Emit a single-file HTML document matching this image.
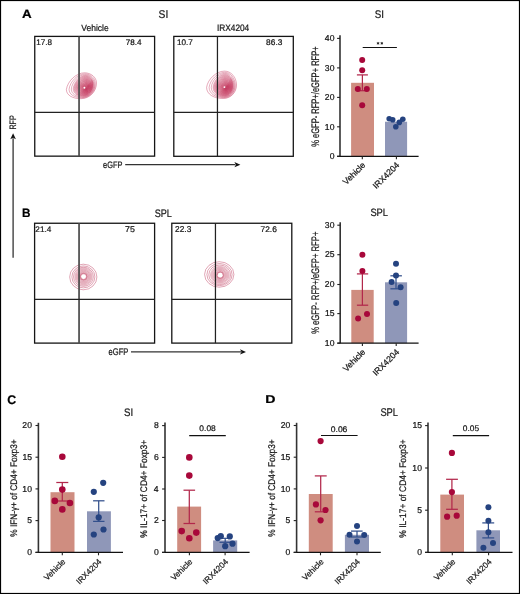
<!DOCTYPE html>
<html><head><meta charset="utf-8"><title>Figure</title>
<style>html,body{margin:0;padding:0;background:#fff;}body{width:520px;height:594px;position:relative;overflow:hidden;font-family:"Liberation Sans", sans-serif;}</style>
</head><body>
<svg width="520" height="594" viewBox="0 0 520 594" style="position:absolute;left:0;top:0;will-change:transform;font-family:'Liberation Sans', sans-serif">
<style>text{stroke:#151515;stroke-width:0.22px;paint-order:stroke;text-rendering:geometricPrecision}</style>
<rect x="0" y="0" width="520" height="594" fill="#fff"/>
<text x="21.98" y="17.90" style="font-size:12.06px;font-weight:bold;" fill="#000" textLength="9.67" lengthAdjust="spacingAndGlyphs">A</text>
<text x="22.02" y="216.70" style="font-size:12.21px;font-weight:bold;" fill="#000" textLength="8.51" lengthAdjust="spacingAndGlyphs">B</text>
<text x="7.19" y="404.00" style="font-size:12.46px;font-weight:bold;" fill="#000" textLength="8.94" lengthAdjust="spacingAndGlyphs">C</text>
<text x="265.37" y="403.30" style="font-size:11.34px;font-weight:bold;" fill="#000" textLength="10.22" lengthAdjust="spacingAndGlyphs">D</text>
<text x="158.54" y="18.30" style="font-size:11.17px;" fill="#151515" textLength="9.71" lengthAdjust="spacingAndGlyphs">SI</text>
<text x="374.76" y="17.90" style="font-size:11.03px;" fill="#151515" textLength="9.24" lengthAdjust="spacingAndGlyphs">SI</text>
<text x="154.69" y="216.50" style="font-size:10.89px;" fill="#151515" textLength="17.11" lengthAdjust="spacingAndGlyphs">SPL</text>
<text x="370.38" y="216.30" style="font-size:10.60px;" fill="#151515" textLength="17.63" lengthAdjust="spacingAndGlyphs">SPL</text>
<text x="124.07" y="415.50" style="font-size:10.89px;" fill="#151515" textLength="9.12" lengthAdjust="spacingAndGlyphs">SI</text>
<text x="380.38" y="415.50" style="font-size:11.17px;" fill="#151515" textLength="17.63" lengthAdjust="spacingAndGlyphs">SPL</text>
<text x="81.27" y="31.20" style="font-size:9.10px;" fill="#151515" textLength="27.41" lengthAdjust="spacingAndGlyphs">Vehicle</text>
<text x="216.94" y="31.20" style="font-size:9.46px;" fill="#151515" textLength="32.31" lengthAdjust="spacingAndGlyphs">IRX4204</text>
<g fill="none">
<defs><radialGradient id="g1" cx="86.00" cy="89.00" r="12.50" fx="86.00" fy="89.00" gradientUnits="userSpaceOnUse"><stop offset="0" stop-color="#b0123c" stop-opacity="0.7"/><stop offset="0.35" stop-color="#bf2a50" stop-opacity="0.5"/><stop offset="0.75" stop-color="#d2607e" stop-opacity="0.25"/><stop offset="1" stop-color="#e6a0b2" stop-opacity="0.0"/></radialGradient></defs>
<path d="M66.40,89.50 C67.49,81.15 76.36,72.80 84.50,72.80 C91.10,72.80 96.50,77.39 96.50,83.00 C96.50,91.64 89.53,98.70 81.00,98.70 C72.53,98.70 66.40,95.20 66.40,89.50 Z" fill="url(#g1)"/>
<path d="M66.40,89.50 C67.49,81.15 76.36,72.80 84.50,72.80 C91.10,72.80 96.50,77.39 96.50,83.00 C96.50,91.64 89.53,98.70 81.00,98.70 C72.53,98.70 66.40,95.20 66.40,89.50 Z" stroke="#bc1f4b" stroke-width="0.45" stroke-opacity="0.85"/>
<path d="M69.05,89.22 C70.00,81.53 77.71,73.84 84.80,73.84 C90.54,73.84 95.24,78.07 95.24,83.24 C95.24,91.19 89.17,97.70 81.75,97.70 C74.39,97.70 69.05,94.48 69.05,89.22 Z" stroke="#bc1f4b" stroke-width="0.45" stroke-opacity="0.8"/>
<path d="M71.30,88.99 C72.12,81.86 78.86,74.72 85.05,74.72 C90.07,74.72 94.17,78.64 94.17,83.44 C94.17,90.82 88.87,96.85 82.39,96.85 C75.96,96.85 71.30,93.87 71.30,88.99 Z" stroke="#bc1f4b" stroke-width="0.45" stroke-opacity="0.8"/>
<path d="M73.13,88.80 C73.86,82.12 79.80,75.44 85.26,75.44 C89.68,75.44 93.30,79.11 93.30,83.60 C93.30,90.51 88.63,96.16 82.91,96.16 C77.24,96.16 73.13,93.36 73.13,88.80 Z" stroke="#bc1f4b" stroke-width="0.45" stroke-opacity="0.62"/>
<path d="M73.74,88.67 C74.44,82.29 80.12,75.91 85.33,75.91 C89.55,75.91 93.01,79.42 93.01,83.71 C93.01,90.31 88.54,95.71 83.09,95.71 C77.67,95.71 73.74,93.03 73.74,88.67 Z" stroke="#bc1f4b" stroke-width="0.45" stroke-opacity="0.62"/>
<path d="M74.36,88.55 C75.02,82.47 80.43,76.39 85.40,76.39 C89.42,76.39 92.72,79.73 92.72,83.81 C92.72,90.10 88.46,95.25 83.26,95.25 C78.10,95.25 74.36,92.70 74.36,88.55 Z" stroke="#bc1f4b" stroke-width="0.45" stroke-opacity="0.62"/>
<path d="M74.97,88.42 C75.60,82.64 80.74,76.86 85.47,76.86 C89.29,76.86 92.43,80.04 92.43,83.92 C92.43,89.90 88.38,94.80 83.44,94.80 C78.52,94.80 74.97,92.37 74.97,88.42 Z" stroke="#bc1f4b" stroke-width="0.45" stroke-opacity="0.62"/>
<path d="M75.58,88.30 C76.18,82.81 81.06,77.33 85.53,77.33 C89.17,77.33 92.14,80.35 92.14,84.03 C92.14,89.70 88.30,94.34 83.61,94.34 C78.95,94.34 75.58,92.04 75.58,88.30 Z" stroke="#bc1f4b" stroke-width="0.45" stroke-opacity="0.62"/>
<path d="M76.19,88.17 C76.76,82.99 81.37,77.80 85.60,77.80 C89.04,77.80 91.84,80.65 91.84,84.14 C91.84,89.50 88.22,93.89 83.78,93.89 C79.38,93.89 76.19,91.71 76.19,88.17 Z" stroke="#bc1f4b" stroke-width="0.45" stroke-opacity="0.62"/>
<path d="M76.80,88.05 C77.34,83.16 81.68,78.28 85.67,78.28 C88.91,78.28 91.55,80.96 91.55,84.24 C91.55,89.30 88.14,93.43 83.96,93.43 C79.81,93.43 76.80,91.39 76.80,88.05 Z" stroke="#bc1f4b" stroke-width="0.45" stroke-opacity="0.62"/>
<path d="M77.42,87.92 C77.92,83.34 82.00,78.75 85.74,78.75 C88.78,78.75 91.26,81.27 91.26,84.35 C91.26,89.10 88.05,92.98 84.13,92.98 C80.24,92.98 77.42,91.06 77.42,87.92 Z" stroke="#bc1f4b" stroke-width="0.45" stroke-opacity="0.62"/>
<path d="M78.03,87.80 C78.49,83.51 82.31,79.22 85.81,79.22 C88.65,79.22 90.97,81.58 90.97,84.46 C90.97,88.89 87.97,92.52 84.31,92.52 C80.66,92.52 78.03,90.73 78.03,87.80 Z" stroke="#bc1f4b" stroke-width="0.45" stroke-opacity="0.62"/>
<path d="M78.64,87.67 C79.07,83.68 82.62,79.70 85.88,79.70 C88.52,79.70 90.68,81.89 90.68,84.57 C90.68,88.69 87.89,92.07 84.48,92.07 C81.09,92.07 78.64,90.40 78.64,87.67 Z" stroke="#bc1f4b" stroke-width="0.45" stroke-opacity="0.62"/>
<path d="M79.25,87.55 C79.65,83.86 82.94,80.17 85.95,80.17 C88.39,80.17 90.39,82.20 90.39,84.67 C90.39,88.49 87.81,91.61 84.65,91.61 C81.52,91.61 79.25,90.07 79.25,87.55 Z" stroke="#bc1f4b" stroke-width="0.45" stroke-opacity="0.62"/>
<path d="M79.86,87.42 C80.23,84.03 83.25,80.64 86.02,80.64 C88.26,80.64 90.10,82.50 90.10,84.78 C90.10,88.29 87.73,91.16 84.83,91.16 C81.95,91.16 79.86,89.74 79.86,87.42 Z" stroke="#bc1f4b" stroke-width="0.45" stroke-opacity="0.62"/>
<path d="M80.48,87.30 C80.81,84.20 83.56,81.11 86.09,81.11 C88.13,81.11 89.81,82.81 89.81,84.89 C89.81,88.09 87.64,90.70 85.00,90.70 C82.38,90.70 80.48,89.41 80.48,87.30 Z" stroke="#bc1f4b" stroke-width="0.45" stroke-opacity="0.62"/>
<path d="M81.09,87.17 C81.39,84.38 83.88,81.59 86.16,81.59 C88.00,81.59 89.52,83.12 89.52,85.00 C89.52,87.88 87.56,90.25 85.18,90.25 C82.80,90.25 81.09,89.08 81.09,87.17 Z" stroke="#bc1f4b" stroke-width="0.45" stroke-opacity="0.62"/>
<path d="M81.70,87.04 C81.97,84.55 84.19,82.06 86.22,82.06 C87.88,82.06 89.22,83.43 89.22,85.10 C89.22,87.68 87.48,89.79 85.35,89.79 C83.23,89.79 81.70,88.75 81.70,87.04 Z" stroke="#bc1f4b" stroke-width="0.45" stroke-opacity="0.62"/>
<path d="M82.31,86.92 C82.55,84.73 84.50,82.53 86.29,82.53 C87.75,82.53 88.93,83.74 88.93,85.21 C88.93,87.48 87.40,89.34 85.52,89.34 C83.66,89.34 82.31,88.42 82.31,86.92 Z" stroke="#bc1f4b" stroke-width="0.45" stroke-opacity="0.62"/>
<path d="M82.92,86.79 C83.13,84.90 84.82,83.01 86.36,83.01 C87.62,83.01 88.64,84.05 88.64,85.32 C88.64,87.28 87.32,88.88 85.70,88.88 C84.09,88.88 82.92,88.09 82.92,86.79 Z" stroke="#bc1f4b" stroke-width="0.45" stroke-opacity="0.62"/>
<path d="M83.54,86.67 C83.71,85.07 85.13,83.48 86.43,83.48 C87.49,83.48 88.35,84.36 88.35,85.43 C88.35,87.08 87.24,88.43 85.87,88.43 C84.52,88.43 83.54,87.76 83.54,86.67 Z" stroke="#bc1f4b" stroke-width="0.45" stroke-opacity="0.62"/>
<path d="M84.15,86.54 C84.29,85.25 85.44,83.95 86.50,83.95 C87.36,83.95 88.06,84.66 88.06,85.53 C88.06,86.87 87.15,87.97 86.05,87.97 C84.95,87.97 84.15,87.43 84.15,86.54 Z" stroke="#bc1f4b" stroke-width="0.45" stroke-opacity="0.62"/>
<path d="M84.76,86.42 C84.87,85.42 85.76,84.42 86.57,84.42 C87.23,84.42 87.77,84.97 87.77,85.64 C87.77,86.67 87.07,87.52 86.22,87.52 C85.37,87.52 84.76,87.10 84.76,86.42 Z" stroke="#bc1f4b" stroke-width="0.45" stroke-opacity="0.62"/>
<path d="M85.37,86.29 C85.45,85.59 86.07,84.90 86.64,84.90 C87.10,84.90 87.48,85.28 87.48,85.75 C87.48,86.47 86.99,87.06 86.39,87.06 C85.80,87.06 85.37,86.77 85.37,86.29 Z" stroke="#bc1f4b" stroke-width="0.45" stroke-opacity="0.62"/>
<path d="M85.98,86.17 C86.03,85.77 86.38,85.37 86.71,85.37 C86.97,85.37 87.19,85.59 87.19,85.86 C87.19,86.27 86.91,86.61 86.57,86.61 C86.23,86.61 85.98,86.44 85.98,86.17 Z" stroke="#bc1f4b" stroke-width="0.45" stroke-opacity="0.62"/>
<circle cx="84.40" cy="87.80" r="0.95" fill="#fff"/>
</g>
<g fill="none">
<defs><radialGradient id="g2" cx="226.00" cy="88.50" r="13.00" fx="226.00" fy="88.50" gradientUnits="userSpaceOnUse"><stop offset="0" stop-color="#b0123c" stop-opacity="0.7"/><stop offset="0.35" stop-color="#bf2a50" stop-opacity="0.5"/><stop offset="0.75" stop-color="#d2607e" stop-opacity="0.25"/><stop offset="1" stop-color="#e6a0b2" stop-opacity="0.0"/></radialGradient></defs>
<path d="M206.60,87.40 C207.67,79.25 216.44,71.10 224.50,71.10 C231.10,71.10 236.50,77.35 236.50,85.00 C236.50,92.42 230.65,98.50 223.50,98.50 C213.70,98.50 206.60,94.28 206.60,87.40 Z" fill="url(#g2)"/>
<path d="M206.60,87.40 C207.67,79.25 216.44,71.10 224.50,71.10 C231.10,71.10 236.50,77.35 236.50,85.00 C236.50,92.42 230.65,98.50 223.50,98.50 C213.70,98.50 206.60,94.28 206.60,87.40 Z" stroke="#bc1f4b" stroke-width="0.45" stroke-opacity="0.85"/>
<path d="M209.12,87.32 C210.06,79.81 217.69,72.31 224.69,72.31 C230.44,72.31 235.13,78.07 235.13,85.11 C235.13,91.95 230.05,97.55 223.82,97.55 C215.30,97.55 209.12,93.66 209.12,87.32 Z" stroke="#bc1f4b" stroke-width="0.45" stroke-opacity="0.8"/>
<path d="M211.26,87.25 C212.07,80.29 218.74,73.33 224.86,73.33 C229.88,73.33 233.98,78.67 233.98,85.20 C233.98,91.55 229.53,96.74 224.10,96.74 C216.65,96.74 211.26,93.14 211.26,87.25 Z" stroke="#bc1f4b" stroke-width="0.45" stroke-opacity="0.8"/>
<path d="M213.00,87.20 C213.72,80.68 219.60,74.16 225.00,74.16 C229.42,74.16 233.03,79.16 233.03,85.28 C233.03,91.22 229.12,96.08 224.32,96.08 C217.76,96.08 213.00,92.71 213.00,87.20 Z" stroke="#bc1f4b" stroke-width="0.45" stroke-opacity="0.62"/>
<path d="M213.58,87.16 C214.27,80.94 219.88,74.71 225.04,74.71 C229.26,74.71 232.72,79.49 232.72,85.33 C232.72,91.00 228.98,95.65 224.40,95.65 C218.13,95.65 213.58,92.42 213.58,87.16 Z" stroke="#bc1f4b" stroke-width="0.45" stroke-opacity="0.62"/>
<path d="M214.17,87.13 C214.82,81.19 220.17,75.26 225.09,75.26 C229.11,75.26 232.41,79.81 232.41,85.38 C232.41,90.79 228.84,95.21 224.47,95.21 C218.50,95.21 214.17,92.14 214.17,87.13 Z" stroke="#bc1f4b" stroke-width="0.45" stroke-opacity="0.62"/>
<path d="M214.75,87.09 C215.37,81.45 220.46,75.80 225.13,75.80 C228.96,75.80 232.09,80.14 232.09,85.43 C232.09,90.57 228.70,94.78 224.55,94.78 C218.86,94.78 214.75,91.86 214.75,87.09 Z" stroke="#bc1f4b" stroke-width="0.45" stroke-opacity="0.62"/>
<path d="M215.33,87.06 C215.92,81.70 220.74,76.35 225.18,76.35 C228.81,76.35 231.78,80.46 231.78,85.48 C231.78,90.36 228.56,94.35 224.62,94.35 C219.23,94.35 215.33,91.58 215.33,87.06 Z" stroke="#bc1f4b" stroke-width="0.45" stroke-opacity="0.62"/>
<path d="M215.91,87.02 C216.47,81.96 221.03,76.90 225.22,76.90 C228.65,76.90 231.46,80.78 231.46,85.53 C231.46,90.14 228.42,93.91 224.70,93.91 C219.60,93.91 215.91,91.29 215.91,87.02 Z" stroke="#bc1f4b" stroke-width="0.45" stroke-opacity="0.62"/>
<path d="M216.49,86.99 C217.02,82.22 221.32,77.45 225.26,77.45 C228.50,77.45 231.15,81.11 231.15,85.58 C231.15,89.93 228.28,93.48 224.78,93.48 C219.97,93.48 216.49,91.01 216.49,86.99 Z" stroke="#bc1f4b" stroke-width="0.45" stroke-opacity="0.62"/>
<path d="M217.08,86.95 C217.57,82.47 221.60,78.00 225.31,78.00 C228.35,78.00 230.83,81.43 230.83,85.63 C230.83,89.71 228.14,93.05 224.85,93.05 C220.34,93.05 217.08,90.73 217.08,86.95 Z" stroke="#bc1f4b" stroke-width="0.45" stroke-opacity="0.62"/>
<path d="M217.66,86.91 C218.12,82.73 221.89,78.54 225.35,78.54 C228.19,78.54 230.51,81.76 230.51,85.68 C230.51,89.49 228.00,92.61 224.93,92.61 C220.71,92.61 217.66,90.45 217.66,86.91 Z" stroke="#bc1f4b" stroke-width="0.45" stroke-opacity="0.62"/>
<path d="M218.24,86.88 C218.67,82.99 222.18,79.09 225.40,79.09 C228.04,79.09 230.20,82.08 230.20,85.73 C230.20,89.28 227.86,92.18 225.00,92.18 C221.08,92.18 218.24,90.16 218.24,86.88 Z" stroke="#bc1f4b" stroke-width="0.45" stroke-opacity="0.62"/>
<path d="M218.82,86.84 C219.22,83.24 222.46,79.64 225.44,79.64 C227.89,79.64 229.88,82.40 229.88,85.78 C229.88,89.06 227.72,91.75 225.07,91.75 C221.45,91.75 218.82,89.88 218.82,86.84 Z" stroke="#bc1f4b" stroke-width="0.45" stroke-opacity="0.62"/>
<path d="M219.40,86.81 C219.77,83.50 222.75,80.19 225.49,80.19 C227.73,80.19 229.57,82.73 229.57,85.83 C229.57,88.85 227.58,91.31 225.15,91.31 C221.82,91.31 219.40,89.60 219.40,86.81 Z" stroke="#bc1f4b" stroke-width="0.45" stroke-opacity="0.62"/>
<path d="M219.99,86.77 C220.32,83.75 223.04,80.74 225.53,80.74 C227.58,80.74 229.25,83.05 229.25,85.88 C229.25,88.63 227.44,90.88 225.22,90.88 C222.19,90.88 219.99,89.32 219.99,86.77 Z" stroke="#bc1f4b" stroke-width="0.45" stroke-opacity="0.62"/>
<path d="M220.57,86.73 C220.87,84.01 223.32,81.28 225.58,81.28 C227.43,81.28 228.94,83.38 228.94,85.93 C228.94,88.41 227.30,90.45 225.30,90.45 C222.56,90.45 220.57,89.04 220.57,86.73 Z" stroke="#bc1f4b" stroke-width="0.45" stroke-opacity="0.62"/>
<path d="M221.15,86.70 C221.42,84.27 223.61,81.83 225.62,81.83 C227.28,81.83 228.62,83.70 228.62,85.98 C228.62,88.20 227.16,90.01 225.38,90.01 C222.92,90.01 221.15,88.75 221.15,86.70 Z" stroke="#bc1f4b" stroke-width="0.45" stroke-opacity="0.62"/>
<path d="M221.73,86.66 C221.97,84.52 223.90,82.38 225.67,82.38 C227.12,82.38 228.31,84.02 228.31,86.03 C228.31,87.98 227.02,89.58 225.45,89.58 C223.29,89.58 221.73,88.47 221.73,86.66 Z" stroke="#bc1f4b" stroke-width="0.45" stroke-opacity="0.62"/>
<path d="M222.31,86.63 C222.52,84.78 224.18,82.93 225.72,82.93 C226.97,82.93 228.00,84.35 228.00,86.08 C228.00,87.77 226.88,89.15 225.53,89.15 C223.66,89.15 222.31,88.19 222.31,86.63 Z" stroke="#bc1f4b" stroke-width="0.45" stroke-opacity="0.62"/>
<path d="M222.90,86.59 C223.07,85.03 224.47,83.48 225.76,83.48 C226.82,83.48 227.68,84.67 227.68,86.13 C227.68,87.55 226.74,88.71 225.60,88.71 C224.03,88.71 222.90,87.91 222.90,86.59 Z" stroke="#bc1f4b" stroke-width="0.45" stroke-opacity="0.62"/>
<path d="M223.48,86.56 C223.62,85.29 224.76,84.03 225.81,84.03 C226.66,84.03 227.37,85.00 227.37,86.18 C227.37,87.34 226.60,88.28 225.68,88.28 C224.40,88.28 223.48,87.62 223.48,86.56 Z" stroke="#bc1f4b" stroke-width="0.45" stroke-opacity="0.62"/>
<path d="M224.06,86.52 C224.17,85.55 225.04,84.57 225.85,84.57 C226.51,84.57 227.05,85.32 227.05,86.23 C227.05,87.12 226.47,87.84 225.75,87.84 C224.77,87.84 224.06,87.34 224.06,86.52 Z" stroke="#bc1f4b" stroke-width="0.45" stroke-opacity="0.62"/>
<path d="M224.64,86.48 C224.72,85.80 225.33,85.12 225.90,85.12 C226.36,85.12 226.74,85.64 226.74,86.28 C226.74,86.90 226.33,87.41 225.82,87.41 C225.14,87.41 224.64,87.06 224.64,86.48 Z" stroke="#bc1f4b" stroke-width="0.45" stroke-opacity="0.62"/>
<path d="M225.22,86.45 C225.27,86.06 225.62,85.67 225.94,85.67 C226.20,85.67 226.42,85.97 226.42,86.33 C226.42,86.69 226.19,86.98 225.90,86.98 C225.51,86.98 225.22,86.78 225.22,86.45 Z" stroke="#bc1f4b" stroke-width="0.45" stroke-opacity="0.62"/>
<circle cx="224.40" cy="87.10" r="0.95" fill="#fff"/>
</g>
<g fill="none">
<defs><radialGradient id="g3" cx="83.60" cy="276.60" r="8.70" fx="83.60" fy="276.60" gradientUnits="userSpaceOnUse"><stop offset="0" stop-color="#c4405f" stop-opacity="0.35"/><stop offset="0.5" stop-color="#d27088" stop-opacity="0.28"/><stop offset="1" stop-color="#e6a8b8" stop-opacity="0.22"/></radialGradient></defs>
<ellipse cx="83.50" cy="276.70" rx="8.60" ry="8.70" fill="url(#g3)"/>
<ellipse cx="83.30" cy="277.00" rx="13.60" ry="12.80" stroke="#b92a50" stroke-width="0.5" stroke-opacity="0.85"/>
<ellipse cx="83.40" cy="276.90" rx="11.50" ry="11.00" stroke="#b92a50" stroke-width="0.5" stroke-opacity="0.85"/>
<ellipse cx="83.45" cy="276.80" rx="9.90" ry="9.60" stroke="#b92a50" stroke-width="0.5" stroke-opacity="0.85"/>
<ellipse cx="83.50" cy="276.70" rx="8.60" ry="8.70" stroke="#b92a50" stroke-width="0.5" stroke-opacity="0.6"/>
<ellipse cx="83.51" cy="276.69" rx="7.60" ry="7.69" stroke="#b92a50" stroke-width="0.5" stroke-opacity="0.6"/>
<ellipse cx="83.53" cy="276.68" rx="6.60" ry="6.67" stroke="#b92a50" stroke-width="0.5" stroke-opacity="0.6"/>
<ellipse cx="83.54" cy="276.66" rx="5.60" ry="5.66" stroke="#b92a50" stroke-width="0.5" stroke-opacity="0.6"/>
<ellipse cx="83.55" cy="276.65" rx="4.60" ry="4.65" stroke="#b92a50" stroke-width="0.5" stroke-opacity="0.6"/>
<ellipse cx="83.56" cy="276.64" rx="3.60" ry="3.64" stroke="#b92a50" stroke-width="0.5" stroke-opacity="0.6"/>
<ellipse cx="83.57" cy="276.62" rx="2.60" ry="2.62" stroke="#b92a50" stroke-width="0.5" stroke-opacity="0.6"/>
<ellipse cx="83.59" cy="276.61" rx="1.60" ry="1.61" stroke="#b92a50" stroke-width="0.5" stroke-opacity="0.6"/>
<ellipse cx="83.60" cy="276.60" rx="0.60" ry="0.60" stroke="#b92a50" stroke-width="0.5" stroke-opacity="0.6"/>
<circle cx="83.60" cy="276.60" r="3.30" stroke="#b92a50" stroke-width="0.7" stroke-opacity="0.45"/>
<circle cx="83.60" cy="276.60" r="2.4" fill="#fff"/>
</g>
<g fill="none">
<defs><radialGradient id="g4" cx="220.20" cy="275.20" r="8.60" fx="220.20" fy="275.20" gradientUnits="userSpaceOnUse"><stop offset="0" stop-color="#c4405f" stop-opacity="0.35"/><stop offset="0.5" stop-color="#d27088" stop-opacity="0.28"/><stop offset="1" stop-color="#e6a8b8" stop-opacity="0.22"/></radialGradient></defs>
<ellipse cx="219.90" cy="274.90" rx="9.40" ry="8.60" fill="url(#g4)"/>
<ellipse cx="219.25" cy="274.45" rx="14.65" ry="12.75" stroke="#b92a50" stroke-width="0.5" stroke-opacity="0.85"/>
<ellipse cx="219.50" cy="274.60" rx="12.60" ry="11.10" stroke="#b92a50" stroke-width="0.5" stroke-opacity="0.85"/>
<ellipse cx="219.70" cy="274.80" rx="10.90" ry="9.80" stroke="#b92a50" stroke-width="0.5" stroke-opacity="0.85"/>
<ellipse cx="219.90" cy="274.90" rx="9.40" ry="8.60" stroke="#b92a50" stroke-width="0.5" stroke-opacity="0.6"/>
<ellipse cx="219.94" cy="274.94" rx="8.30" ry="7.60" stroke="#b92a50" stroke-width="0.5" stroke-opacity="0.6"/>
<ellipse cx="219.97" cy="274.97" rx="7.20" ry="6.60" stroke="#b92a50" stroke-width="0.5" stroke-opacity="0.6"/>
<ellipse cx="220.01" cy="275.01" rx="6.10" ry="5.60" stroke="#b92a50" stroke-width="0.5" stroke-opacity="0.6"/>
<ellipse cx="220.05" cy="275.05" rx="5.00" ry="4.60" stroke="#b92a50" stroke-width="0.5" stroke-opacity="0.6"/>
<ellipse cx="220.09" cy="275.09" rx="3.90" ry="3.60" stroke="#b92a50" stroke-width="0.5" stroke-opacity="0.6"/>
<ellipse cx="220.12" cy="275.12" rx="2.80" ry="2.60" stroke="#b92a50" stroke-width="0.5" stroke-opacity="0.6"/>
<ellipse cx="220.16" cy="275.16" rx="1.70" ry="1.60" stroke="#b92a50" stroke-width="0.5" stroke-opacity="0.6"/>
<ellipse cx="220.20" cy="275.20" rx="0.60" ry="0.60" stroke="#b92a50" stroke-width="0.5" stroke-opacity="0.6"/>
<circle cx="220.20" cy="275.20" r="3.30" stroke="#b92a50" stroke-width="0.7" stroke-opacity="0.45"/>
<circle cx="220.20" cy="275.20" r="2.4" fill="#fff"/>
</g>
<rect x="34.75" y="36.40" width="119.85" height="119.75" fill="none" stroke="#151515" stroke-width="1.3"/>
<line x1="79.05" y1="36.40" x2="79.05" y2="156.15" stroke="#4a4a4a" stroke-width="1.7"/>
<line x1="34.75" y1="112.40" x2="154.60" y2="112.40" stroke="#222" stroke-width="1.2"/>
<rect x="173.80" y="36.40" width="119.50" height="119.90" fill="none" stroke="#151515" stroke-width="1.3"/>
<line x1="217.45" y1="36.40" x2="217.45" y2="156.30" stroke="#222" stroke-width="1.25"/>
<line x1="173.80" y1="112.35" x2="293.30" y2="112.35" stroke="#222" stroke-width="1.2"/>
<rect x="34.60" y="223.25" width="120.00" height="119.85" fill="none" stroke="#151515" stroke-width="1.3"/>
<line x1="79.05" y1="223.25" x2="79.05" y2="343.10" stroke="#4a4a4a" stroke-width="1.7"/>
<line x1="34.60" y1="299.40" x2="154.60" y2="299.40" stroke="#222" stroke-width="1.2"/>
<rect x="171.80" y="223.25" width="120.00" height="119.85" fill="none" stroke="#151515" stroke-width="1.3"/>
<line x1="215.45" y1="223.25" x2="215.45" y2="343.10" stroke="#222" stroke-width="1.25"/>
<line x1="171.80" y1="299.40" x2="291.80" y2="299.40" stroke="#222" stroke-width="1.2"/>
<text x="36.18" y="45.00" style="font-size:8.17px;" fill="#151515" textLength="15.77" lengthAdjust="spacingAndGlyphs">17.8</text>
<text x="125.89" y="44.90" style="font-size:8.02px;" fill="#151515" textLength="15.75" lengthAdjust="spacingAndGlyphs">78.4</text>
<text x="176.88" y="45.10" style="font-size:8.17px;" fill="#151515" textLength="15.83" lengthAdjust="spacingAndGlyphs">10.7</text>
<text x="266.14" y="45.00" style="font-size:8.17px;" fill="#151515" textLength="16.22" lengthAdjust="spacingAndGlyphs">86.3</text>
<text x="35.39" y="231.80" style="font-size:8.02px;" fill="#151515" textLength="15.95" lengthAdjust="spacingAndGlyphs">21.4</text>
<text x="125.05" y="231.90" style="font-size:8.28px;" fill="#151515" textLength="9.81" lengthAdjust="spacingAndGlyphs">75</text>
<text x="175.08" y="232.40" style="font-size:8.60px;" fill="#151515" textLength="16.18" lengthAdjust="spacingAndGlyphs">22.3</text>
<text x="260.57" y="231.80" style="font-size:8.17px;" fill="#151515" textLength="16.29" lengthAdjust="spacingAndGlyphs">72.6</text>
<text x="103.09" y="167.90" style="font-size:9.46px;" fill="#151515" textLength="19.40" lengthAdjust="spacingAndGlyphs">eGFP</text>
<line x1="125.20" y1="164.70" x2="235.40" y2="164.70" stroke="#333" stroke-width="1.3"/>
<path d="M240.40,164.70 L234.40,162.10 L235.90,164.70 L234.40,167.30 Z" fill="#111"/>
<text x="108.58" y="355.30" style="font-size:9.60px;" fill="#151515" textLength="19.81" lengthAdjust="spacingAndGlyphs">eGFP</text>
<line x1="131.00" y1="351.90" x2="241.00" y2="351.90" stroke="#333" stroke-width="1.3"/>
<path d="M246.00,351.90 L240.00,349.30 L241.50,351.90 L240.00,354.50 Z" fill="#111"/>
<text transform="translate(15.80,129.58) rotate(-90)" style="font-size:9.30px" fill="#151515" textLength="14.26" lengthAdjust="spacingAndGlyphs">RFP</text>
<line x1="13.10" y1="257.70" x2="13.10" y2="138.20" stroke="#333" stroke-width="1.3"/>
<path d="M13.10,133.20 L10.30,139.20 L13.10,137.70 L15.90,139.20 Z" fill="#111"/>
<rect x="351.10" y="82.80" width="22.90" height="73.50" fill="#cf8d80"/>
<rect x="385.00" y="121.70" width="22.10" height="34.60" fill="#8f97b8"/>
<line x1="362.40" y1="74.90" x2="362.40" y2="90.70" stroke="#b2284b" stroke-width="1.25"/>
<line x1="356.90" y1="74.90" x2="367.90" y2="74.90" stroke="#b2284b" stroke-width="1.25"/>
<line x1="356.90" y1="90.70" x2="367.90" y2="90.70" stroke="#b2284b" stroke-width="1.25"/>
<circle cx="362.20" cy="59.90" r="3.0" fill="#a8083a"/>
<circle cx="362.20" cy="70.30" r="3.0" fill="#a8083a"/>
<circle cx="357.80" cy="89.10" r="3.0" fill="#a8083a"/>
<circle cx="366.80" cy="89.10" r="3.0" fill="#a8083a"/>
<circle cx="362.20" cy="105.30" r="3.0" fill="#a8083a"/>
<circle cx="389.20" cy="118.70" r="2.8" fill="#254380"/>
<circle cx="392.70" cy="119.80" r="2.8" fill="#254380"/>
<circle cx="399.30" cy="122.40" r="2.8" fill="#254380"/>
<circle cx="402.80" cy="119.20" r="2.8" fill="#254380"/>
<circle cx="395.80" cy="126.70" r="2.8" fill="#254380"/>
<line x1="340.00" y1="35.30" x2="340.00" y2="156.30" stroke="#333" stroke-width="1.6"/>
<line x1="337.10" y1="156.30" x2="418.60" y2="156.30" stroke="#111" stroke-width="1.25"/>
<line x1="337.10" y1="156.30" x2="340.00" y2="156.30" stroke="#222" stroke-width="1.1"/>
<text x="334.43" y="159.04" style="font-size:8.6px" fill="#151515" text-anchor="end">0</text>
<line x1="337.10" y1="126.80" x2="340.00" y2="126.80" stroke="#222" stroke-width="1.1"/>
<text x="334.43" y="129.54" style="font-size:8.6px" fill="#151515" text-anchor="end">10</text>
<line x1="337.10" y1="97.40" x2="340.00" y2="97.40" stroke="#222" stroke-width="1.1"/>
<text x="334.43" y="100.14" style="font-size:8.6px" fill="#151515" text-anchor="end">20</text>
<line x1="337.10" y1="67.90" x2="340.00" y2="67.90" stroke="#222" stroke-width="1.1"/>
<text x="334.43" y="70.64" style="font-size:8.6px" fill="#151515" text-anchor="end">30</text>
<line x1="337.10" y1="38.40" x2="340.00" y2="38.40" stroke="#222" stroke-width="1.1"/>
<text x="334.43" y="41.14" style="font-size:8.6px" fill="#151515" text-anchor="end">40</text>
<line x1="362.30" y1="156.30" x2="362.30" y2="159.20" stroke="#222" stroke-width="1.1"/>
<line x1="396.40" y1="156.30" x2="396.40" y2="159.20" stroke="#222" stroke-width="1.1"/>
<text transform="translate(365.90,165.70) rotate(-45)" style="font-size:8.6px" fill="#151515" text-anchor="end">Vehicle</text>
<text transform="translate(400.00,165.70) rotate(-45)" style="font-size:8.6px" fill="#151515" text-anchor="end">IRX4204</text>
<text transform="translate(318.50,146.86) rotate(-90)" style="font-size:10.90px" fill="#151515" textLength="100.54" lengthAdjust="spacingAndGlyphs">% eGFP- RFP+/eGFP+ RFP+</text>
<line x1="362.70" y1="47.50" x2="396.90" y2="47.50" stroke="#111" stroke-width="1.05"/>
<g transform="translate(378.05,43.30)" stroke="#1a1a1a" stroke-width="0.8" stroke-linecap="round"><line x1="0" y1="-0.95" x2="0" y2="0.95"/><line x1="-0.85" y1="-0.48" x2="0.85" y2="0.48"/><line x1="-0.85" y1="0.48" x2="0.85" y2="-0.48"/></g>
<g transform="translate(381.85,43.30)" stroke="#1a1a1a" stroke-width="0.8" stroke-linecap="round"><line x1="0" y1="-0.95" x2="0" y2="0.95"/><line x1="-0.85" y1="-0.48" x2="0.85" y2="0.48"/><line x1="-0.85" y1="0.48" x2="0.85" y2="-0.48"/></g>
<rect x="351.30" y="289.90" width="22.40" height="53.30" fill="#cf8d80"/>
<rect x="385.00" y="282.30" width="22.10" height="60.90" fill="#8f97b8"/>
<line x1="362.40" y1="273.90" x2="362.40" y2="305.20" stroke="#b2284b" stroke-width="1.25"/>
<line x1="356.90" y1="273.90" x2="368.20" y2="273.90" stroke="#b2284b" stroke-width="1.25"/>
<line x1="356.90" y1="305.20" x2="368.20" y2="305.20" stroke="#b2284b" stroke-width="1.25"/>
<line x1="396.00" y1="275.80" x2="396.00" y2="288.80" stroke="#33508c" stroke-width="1.25"/>
<line x1="390.40" y1="275.80" x2="401.90" y2="275.80" stroke="#33508c" stroke-width="1.25"/>
<line x1="390.40" y1="288.80" x2="401.90" y2="288.80" stroke="#33508c" stroke-width="1.25"/>
<circle cx="362.40" cy="254.70" r="3.0" fill="#a8083a"/>
<circle cx="362.40" cy="271.00" r="3.0" fill="#a8083a"/>
<circle cx="367.00" cy="314.00" r="3.0" fill="#a8083a"/>
<circle cx="358.10" cy="318.50" r="3.0" fill="#a8083a"/>
<circle cx="396.00" cy="263.80" r="3.0" fill="#254380"/>
<circle cx="396.00" cy="275.60" r="3.0" fill="#254380"/>
<circle cx="391.60" cy="281.90" r="3.0" fill="#254380"/>
<circle cx="400.60" cy="287.20" r="3.0" fill="#254380"/>
<circle cx="396.20" cy="303.00" r="3.0" fill="#254380"/>
<line x1="340.20" y1="222.30" x2="340.20" y2="343.20" stroke="#333" stroke-width="1.6"/>
<line x1="337.30" y1="343.20" x2="418.60" y2="343.20" stroke="#111" stroke-width="1.25"/>
<line x1="337.30" y1="343.20" x2="340.20" y2="343.20" stroke="#222" stroke-width="1.1"/>
<text x="334.43" y="345.94" style="font-size:8.6px" fill="#151515" text-anchor="end">10</text>
<line x1="337.30" y1="313.60" x2="340.20" y2="313.60" stroke="#222" stroke-width="1.1"/>
<text x="334.46" y="316.34" style="font-size:8.6px" fill="#151515" text-anchor="end">15</text>
<line x1="337.30" y1="284.50" x2="340.20" y2="284.50" stroke="#222" stroke-width="1.1"/>
<text x="334.43" y="287.24" style="font-size:8.6px" fill="#151515" text-anchor="end">20</text>
<line x1="337.30" y1="254.70" x2="340.20" y2="254.70" stroke="#222" stroke-width="1.1"/>
<text x="334.46" y="257.44" style="font-size:8.6px" fill="#151515" text-anchor="end">25</text>
<line x1="337.30" y1="225.20" x2="340.20" y2="225.20" stroke="#222" stroke-width="1.1"/>
<text x="334.43" y="227.94" style="font-size:8.6px" fill="#151515" text-anchor="end">30</text>
<line x1="362.40" y1="343.20" x2="362.40" y2="346.10" stroke="#222" stroke-width="1.1"/>
<line x1="396.20" y1="343.20" x2="396.20" y2="346.10" stroke="#222" stroke-width="1.1"/>
<text transform="translate(366.00,352.60) rotate(-45)" style="font-size:8.6px" fill="#151515" text-anchor="end">Vehicle</text>
<text transform="translate(399.80,352.60) rotate(-45)" style="font-size:8.6px" fill="#151515" text-anchor="end">IRX4204</text>
<text transform="translate(318.50,333.87) rotate(-90)" style="font-size:10.90px" fill="#151515" textLength="102.25" lengthAdjust="spacingAndGlyphs">% eGFP- RFP+/eGFP+ RFP+</text>
<rect x="50.50" y="492.20" width="24.00" height="60.20" fill="#cf8d80"/>
<rect x="87.00" y="511.30" width="23.90" height="41.10" fill="#8f97b8"/>
<line x1="62.30" y1="482.50" x2="62.30" y2="501.00" stroke="#b2284b" stroke-width="1.25"/>
<line x1="56.30" y1="482.50" x2="68.30" y2="482.50" stroke="#b2284b" stroke-width="1.25"/>
<line x1="56.30" y1="501.00" x2="68.30" y2="501.00" stroke="#b2284b" stroke-width="1.25"/>
<line x1="98.70" y1="500.80" x2="98.70" y2="521.40" stroke="#33508c" stroke-width="1.25"/>
<line x1="93.10" y1="500.80" x2="104.50" y2="500.80" stroke="#33508c" stroke-width="1.25"/>
<line x1="93.10" y1="521.40" x2="104.50" y2="521.40" stroke="#33508c" stroke-width="1.25"/>
<circle cx="62.30" cy="456.80" r="3.3" fill="#a8083a"/>
<circle cx="62.30" cy="489.60" r="3.3" fill="#a8083a"/>
<circle cx="54.80" cy="500.90" r="3.3" fill="#a8083a"/>
<circle cx="69.90" cy="503.00" r="3.3" fill="#a8083a"/>
<circle cx="62.30" cy="509.40" r="3.3" fill="#a8083a"/>
<circle cx="103.20" cy="482.80" r="3.1" fill="#254380"/>
<circle cx="93.80" cy="491.80" r="3.1" fill="#254380"/>
<circle cx="98.70" cy="517.40" r="3.1" fill="#254380"/>
<circle cx="103.50" cy="529.50" r="3.1" fill="#254380"/>
<circle cx="93.80" cy="534.50" r="3.1" fill="#254380"/>
<line x1="38.40" y1="422.80" x2="38.40" y2="552.40" stroke="#333" stroke-width="1.6"/>
<line x1="35.50" y1="552.40" x2="123.00" y2="552.40" stroke="#111" stroke-width="1.25"/>
<line x1="35.50" y1="552.40" x2="38.40" y2="552.40" stroke="#222" stroke-width="1.1"/>
<text x="31.93" y="555.14" style="font-size:8.6px" fill="#151515" text-anchor="end">0</text>
<line x1="35.50" y1="520.60" x2="38.40" y2="520.60" stroke="#222" stroke-width="1.1"/>
<text x="31.95" y="523.34" style="font-size:8.6px" fill="#151515" text-anchor="end">5</text>
<line x1="35.50" y1="488.90" x2="38.40" y2="488.90" stroke="#222" stroke-width="1.1"/>
<text x="31.93" y="491.64" style="font-size:8.6px" fill="#151515" text-anchor="end">10</text>
<line x1="35.50" y1="457.20" x2="38.40" y2="457.20" stroke="#222" stroke-width="1.1"/>
<text x="31.96" y="459.94" style="font-size:8.6px" fill="#151515" text-anchor="end">15</text>
<line x1="35.50" y1="425.50" x2="38.40" y2="425.50" stroke="#222" stroke-width="1.1"/>
<text x="31.93" y="428.24" style="font-size:8.6px" fill="#151515" text-anchor="end">20</text>
<line x1="62.30" y1="552.40" x2="62.30" y2="555.30" stroke="#222" stroke-width="1.1"/>
<line x1="98.50" y1="552.40" x2="98.50" y2="555.30" stroke="#222" stroke-width="1.1"/>
<text transform="translate(65.90,562.30) rotate(-45)" style="font-size:8.2px" fill="#151515" text-anchor="end">Vehicle</text>
<text transform="translate(102.10,562.30) rotate(-45)" style="font-size:8.2px" fill="#151515" text-anchor="end">IRX4204</text>
<text transform="translate(16.90,536.69) rotate(-90)" style="font-size:9.59px" fill="#151515" textLength="97.29" lengthAdjust="spacingAndGlyphs">% IFN-γ+ of CD4+ Foxp3+</text>
<rect x="177.20" y="506.60" width="23.90" height="45.80" fill="#cf8d80"/>
<rect x="213.10" y="540.40" width="24.10" height="12.00" fill="#8f97b8"/>
<line x1="189.30" y1="490.20" x2="189.30" y2="523.50" stroke="#b2284b" stroke-width="1.25"/>
<line x1="183.50" y1="490.20" x2="195.10" y2="490.20" stroke="#b2284b" stroke-width="1.25"/>
<line x1="183.50" y1="523.50" x2="195.10" y2="523.50" stroke="#b2284b" stroke-width="1.25"/>
<line x1="225.20" y1="538.30" x2="225.20" y2="542.30" stroke="#33508c" stroke-width="1.25"/>
<line x1="219.50" y1="538.30" x2="231.00" y2="538.30" stroke="#33508c" stroke-width="1.25"/>
<line x1="219.50" y1="542.30" x2="231.00" y2="542.30" stroke="#33508c" stroke-width="1.25"/>
<circle cx="189.30" cy="457.40" r="3.3" fill="#a8083a"/>
<circle cx="189.30" cy="475.60" r="3.3" fill="#a8083a"/>
<circle cx="181.70" cy="531.10" r="3.3" fill="#a8083a"/>
<circle cx="196.30" cy="532.60" r="3.3" fill="#a8083a"/>
<circle cx="189.30" cy="538.20" r="3.3" fill="#a8083a"/>
<circle cx="217.70" cy="538.10" r="3.1" fill="#254380"/>
<circle cx="220.80" cy="536.20" r="3.1" fill="#254380"/>
<circle cx="229.80" cy="536.40" r="3.1" fill="#254380"/>
<circle cx="232.50" cy="543.70" r="3.1" fill="#254380"/>
<circle cx="225.20" cy="546.20" r="3.1" fill="#254380"/>
<line x1="165.00" y1="422.60" x2="165.00" y2="552.40" stroke="#333" stroke-width="1.6"/>
<line x1="162.10" y1="552.40" x2="249.60" y2="552.40" stroke="#111" stroke-width="1.25"/>
<line x1="162.10" y1="552.40" x2="165.00" y2="552.40" stroke="#222" stroke-width="1.1"/>
<text x="158.73" y="555.14" style="font-size:8.6px" fill="#151515" text-anchor="end">0</text>
<line x1="162.10" y1="520.50" x2="165.00" y2="520.50" stroke="#222" stroke-width="1.1"/>
<text x="158.83" y="523.24" style="font-size:8.6px" fill="#151515" text-anchor="end">2</text>
<line x1="162.10" y1="489.00" x2="165.00" y2="489.00" stroke="#222" stroke-width="1.1"/>
<text x="158.65" y="491.74" style="font-size:8.6px" fill="#151515" text-anchor="end">4</text>
<line x1="162.10" y1="457.40" x2="165.00" y2="457.40" stroke="#222" stroke-width="1.1"/>
<text x="158.77" y="460.14" style="font-size:8.6px" fill="#151515" text-anchor="end">6</text>
<line x1="162.10" y1="425.60" x2="165.00" y2="425.60" stroke="#222" stroke-width="1.1"/>
<text x="158.77" y="428.34" style="font-size:8.6px" fill="#151515" text-anchor="end">8</text>
<line x1="189.40" y1="552.40" x2="189.40" y2="555.30" stroke="#222" stroke-width="1.1"/>
<line x1="225.10" y1="552.40" x2="225.10" y2="555.30" stroke="#222" stroke-width="1.1"/>
<text transform="translate(193.00,562.30) rotate(-45)" style="font-size:8.2px" fill="#151515" text-anchor="end">Vehicle</text>
<text transform="translate(228.70,562.30) rotate(-45)" style="font-size:8.2px" fill="#151515" text-anchor="end">IRX4204</text>
<text transform="translate(147.40,537.69) rotate(-90)" style="font-size:9.59px" fill="#151515" textLength="97.80" lengthAdjust="spacingAndGlyphs">% IL-17+ of CD4+ Foxp3+</text>
<line x1="189.20" y1="435.60" x2="225.80" y2="435.60" stroke="#111" stroke-width="1.05"/>
<text x="199.37" y="431.10" style="font-size:8.17px;" fill="#151515" textLength="16.39" lengthAdjust="spacingAndGlyphs">0.08</text>
<rect x="308.80" y="494.00" width="23.90" height="58.40" fill="#cf8d80"/>
<rect x="344.90" y="534.80" width="24.10" height="17.60" fill="#8f97b8"/>
<line x1="320.70" y1="475.90" x2="320.70" y2="511.80" stroke="#b2284b" stroke-width="1.25"/>
<line x1="314.80" y1="475.90" x2="326.70" y2="475.90" stroke="#b2284b" stroke-width="1.25"/>
<line x1="314.80" y1="511.80" x2="326.70" y2="511.80" stroke="#b2284b" stroke-width="1.25"/>
<line x1="357.00" y1="531.10" x2="357.00" y2="537.00" stroke="#33508c" stroke-width="1.25"/>
<line x1="351.00" y1="531.10" x2="362.60" y2="531.10" stroke="#33508c" stroke-width="1.25"/>
<line x1="351.00" y1="537.00" x2="362.60" y2="537.00" stroke="#33508c" stroke-width="1.25"/>
<circle cx="320.60" cy="441.10" r="3.1" fill="#a8083a"/>
<circle cx="315.90" cy="504.40" r="3.1" fill="#a8083a"/>
<circle cx="325.50" cy="510.00" r="3.1" fill="#a8083a"/>
<circle cx="320.60" cy="520.30" r="3.1" fill="#a8083a"/>
<circle cx="357.00" cy="526.00" r="3.0" fill="#254380"/>
<circle cx="349.50" cy="534.80" r="3.0" fill="#254380"/>
<circle cx="364.20" cy="535.10" r="3.0" fill="#254380"/>
<circle cx="357.00" cy="541.50" r="3.0" fill="#254380"/>
<line x1="296.60" y1="422.80" x2="296.60" y2="552.40" stroke="#333" stroke-width="1.6"/>
<line x1="293.70" y1="552.40" x2="380.80" y2="552.40" stroke="#111" stroke-width="1.25"/>
<line x1="293.70" y1="552.40" x2="296.60" y2="552.40" stroke="#222" stroke-width="1.1"/>
<text x="290.23" y="555.14" style="font-size:8.6px" fill="#151515" text-anchor="end">0</text>
<line x1="293.70" y1="520.60" x2="296.60" y2="520.60" stroke="#222" stroke-width="1.1"/>
<text x="290.25" y="523.34" style="font-size:8.6px" fill="#151515" text-anchor="end">5</text>
<line x1="293.70" y1="488.90" x2="296.60" y2="488.90" stroke="#222" stroke-width="1.1"/>
<text x="290.23" y="491.64" style="font-size:8.6px" fill="#151515" text-anchor="end">10</text>
<line x1="293.70" y1="457.20" x2="296.60" y2="457.20" stroke="#222" stroke-width="1.1"/>
<text x="290.26" y="459.94" style="font-size:8.6px" fill="#151515" text-anchor="end">15</text>
<line x1="293.70" y1="425.50" x2="296.60" y2="425.50" stroke="#222" stroke-width="1.1"/>
<text x="290.23" y="428.24" style="font-size:8.6px" fill="#151515" text-anchor="end">20</text>
<line x1="320.50" y1="552.40" x2="320.50" y2="555.30" stroke="#222" stroke-width="1.1"/>
<line x1="357.00" y1="552.40" x2="357.00" y2="555.30" stroke="#222" stroke-width="1.1"/>
<text transform="translate(324.10,562.30) rotate(-45)" style="font-size:8.2px" fill="#151515" text-anchor="end">Vehicle</text>
<text transform="translate(360.60,562.30) rotate(-45)" style="font-size:8.2px" fill="#151515" text-anchor="end">IRX4204</text>
<text transform="translate(274.70,536.69) rotate(-90)" style="font-size:9.74px" fill="#151515" textLength="97.29" lengthAdjust="spacingAndGlyphs">% IFN-γ+ of CD4+ Foxp3+</text>
<line x1="321.00" y1="435.40" x2="357.60" y2="435.40" stroke="#111" stroke-width="1.05"/>
<text x="330.77" y="431.70" style="font-size:8.17px;" fill="#151515" textLength="16.60" lengthAdjust="spacingAndGlyphs">0.06</text>
<rect x="440.30" y="494.60" width="23.70" height="57.80" fill="#cf8d80"/>
<rect x="476.40" y="530.30" width="23.60" height="22.10" fill="#8f97b8"/>
<line x1="451.90" y1="479.30" x2="451.90" y2="509.30" stroke="#b2284b" stroke-width="1.25"/>
<line x1="446.10" y1="479.30" x2="457.90" y2="479.30" stroke="#b2284b" stroke-width="1.25"/>
<line x1="446.10" y1="509.30" x2="457.90" y2="509.30" stroke="#b2284b" stroke-width="1.25"/>
<line x1="488.40" y1="522.90" x2="488.40" y2="537.90" stroke="#33508c" stroke-width="1.25"/>
<line x1="482.30" y1="522.90" x2="494.20" y2="522.90" stroke="#33508c" stroke-width="1.25"/>
<line x1="482.30" y1="537.90" x2="494.20" y2="537.90" stroke="#33508c" stroke-width="1.25"/>
<circle cx="451.90" cy="452.90" r="3.1" fill="#a8083a"/>
<circle cx="451.90" cy="492.10" r="3.1" fill="#a8083a"/>
<circle cx="447.10" cy="516.70" r="3.1" fill="#a8083a"/>
<circle cx="456.70" cy="515.70" r="3.1" fill="#a8083a"/>
<circle cx="488.40" cy="507.30" r="3.0" fill="#254380"/>
<circle cx="488.40" cy="520.70" r="3.0" fill="#254380"/>
<circle cx="488.40" cy="532.30" r="3.0" fill="#254380"/>
<circle cx="493.00" cy="542.90" r="3.0" fill="#254380"/>
<circle cx="483.40" cy="547.70" r="3.0" fill="#254380"/>
<line x1="428.00" y1="422.60" x2="428.00" y2="552.40" stroke="#333" stroke-width="1.6"/>
<line x1="425.10" y1="552.40" x2="512.50" y2="552.40" stroke="#111" stroke-width="1.25"/>
<line x1="425.10" y1="552.40" x2="428.00" y2="552.40" stroke="#222" stroke-width="1.1"/>
<text x="421.93" y="555.14" style="font-size:8.6px" fill="#151515" text-anchor="end">0</text>
<line x1="425.10" y1="510.20" x2="428.00" y2="510.20" stroke="#222" stroke-width="1.1"/>
<text x="421.95" y="512.94" style="font-size:8.6px" fill="#151515" text-anchor="end">5</text>
<line x1="425.10" y1="468.00" x2="428.00" y2="468.00" stroke="#222" stroke-width="1.1"/>
<text x="421.93" y="470.74" style="font-size:8.6px" fill="#151515" text-anchor="end">10</text>
<line x1="425.10" y1="425.60" x2="428.00" y2="425.60" stroke="#222" stroke-width="1.1"/>
<text x="421.96" y="428.34" style="font-size:8.6px" fill="#151515" text-anchor="end">15</text>
<line x1="452.30" y1="552.40" x2="452.30" y2="555.30" stroke="#222" stroke-width="1.1"/>
<line x1="488.60" y1="552.40" x2="488.60" y2="555.30" stroke="#222" stroke-width="1.1"/>
<text transform="translate(455.90,562.30) rotate(-45)" style="font-size:8.2px" fill="#151515" text-anchor="end">Vehicle</text>
<text transform="translate(492.20,562.30) rotate(-45)" style="font-size:8.2px" fill="#151515" text-anchor="end">IRX4204</text>
<text transform="translate(405.90,537.70) rotate(-90)" style="font-size:9.59px" fill="#151515" textLength="98.31" lengthAdjust="spacingAndGlyphs">% IL-17+ of CD4+ Foxp3+</text>
<line x1="452.80" y1="435.60" x2="489.10" y2="435.60" stroke="#111" stroke-width="1.05"/>
<text x="462.77" y="431.10" style="font-size:8.17px;" fill="#151515" textLength="16.27" lengthAdjust="spacingAndGlyphs">0.05</text>
<rect x="0.5" y="0.5" width="519" height="593" fill="none" stroke="#000" stroke-width="1.2"/>
</svg>
</body></html>
